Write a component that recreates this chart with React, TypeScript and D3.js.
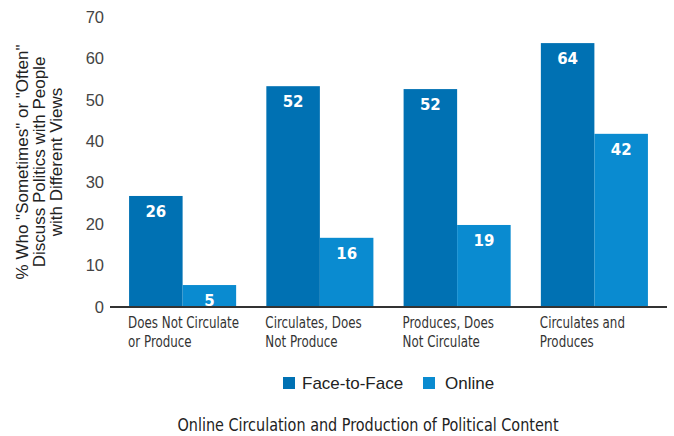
import React from "react";
import * as d3 from "d3";

const categories: string[][] = [
  ["Does Not Circulate", "or Produce"],
  ["Circulates, Does", "Not Produce"],
  ["Produces, Does", "Not Circulate"],
  ["Circulates and", "Produces"],
];
const seriesNames = ["Face-to-Face", "Online"];
const faceToFace = [26.8, 53.3, 52.6, 63.7];
const online = [5.3, 16.7, 19.8, 41.8];
const faceToFaceLabels = ["26", "52", "52", "64"];
const onlineLabels = ["5", "16", "19", "42"];
const yTicks = [0, 10, 20, 30, 40, 50, 60, 70];
const yTitle = ['% Who "Sometimes" or "Often"', "Discuss Politics with People", "with Different Views"];
const xTitle = "Online Circulation and Production of Political Content";

const colors = ["#0071b3", "#0a8bd0"];
const W = 674;
const H = 436;
const condensed = "'DejaVu Sans Condensed', 'Liberation Sans Narrow', sans-serif";
const sans = "'Liberation Sans', Arial, Helvetica, sans-serif";

export default function App() {
  const x = d3
    .scaleBand<number>()
    .domain(d3.range(categories.length))
    .range([110, 667])
    .paddingInner(0.22)
    .paddingOuter(0.139);
  const xs = d3.scaleBand<number>().domain([0, 1]).range([0, x.bandwidth()]);
  const y = d3.scaleLinear().domain([0, 70]).range([307, 17]);
  const series = [faceToFace, online];
  const labels = [faceToFaceLabels, onlineLabels];

  return (
    <svg width={W} height={H} style={{ position: "absolute", left: 0, top: 0, background: "#fff" }}>
      {/* y tick labels */}
      {yTicks.map((t) => (
        <text key={t} x={104} y={y(t)} dy="0.35em" textAnchor="end" fontFamily={sans} fontSize={16.5} fill="#444">
          {t}
        </text>
      ))}
      {/* y title */}
      <text transform={`translate(0,${(y(0) + y(70)) / 2}) rotate(-90)`} fontFamily={sans} fontSize={17} fill="#222" textAnchor="middle">
        {yTitle.map((l, i) => (
          <tspan key={i} x={0} y={28 + i * 17}>
            {l}
          </tspan>
        ))}
      </text>
      {/* bars */}
      {categories.map((_, ci) => (
        <g key={ci} transform={`translate(${x(ci)},0)`}>
          {series.map((s, si) => (
            <g key={si}>
              <rect x={xs(si)} y={y(s[ci])} width={xs.bandwidth()} height={y(0) - y(s[ci])} fill={colors[si]} />
              <text
                x={(xs(si) as number) + xs.bandwidth() / 2}
                y={y(s[ci]) + 21}
                textAnchor="middle"
                fontFamily="'DejaVu Sans', sans-serif"
                fontWeight="bold"
                fontSize={15}
                fill="#fff"
              >
                {labels[si][ci]}
              </text>
            </g>
          ))}
        </g>
      ))}
      {/* axis line */}
      <line x1={110} x2={667} y1={y(0)} y2={y(0)} stroke="#333" strokeWidth={2} />
      {/* category labels */}
      {categories.map((lines, ci) => (
        <text
          key={ci}
          transform={`translate(${(x(ci) as number) - 1},0) scale(0.8,1)`}
          fontFamily={condensed}
          fontSize={16.5}
          fill="#333"
        >
          {lines.map((l, li) => (
            <tspan key={li} x={0} y={328.5 + li * 19}>
              {l}
            </tspan>
          ))}
        </text>
      ))}
      {/* legend */}
      {seriesNames.map((n, i) => {
        const lx = [283, 423][i];
        return (
          <g key={n}>
            <rect x={lx} y={377} width={12} height={12} fill={colors[i]} />
            <text x={lx + 19 + (i === 1 ? 3 : 0)} y={383} dy="0.35em" fontFamily={sans} fontSize={17} fill="#222">
              {n}
            </text>
          </g>
        );
      })}
      {/* x title */}
      <text
        transform={`translate(368,0) scale(0.9,1)`}
        x={0}
        y={425}
        dy="0.35em"
        textAnchor="middle"
        fontFamily={condensed}
        fontSize={17.8}
        fill="#222"
      >
        {xTitle}
      </text>
    </svg>
  );
}
